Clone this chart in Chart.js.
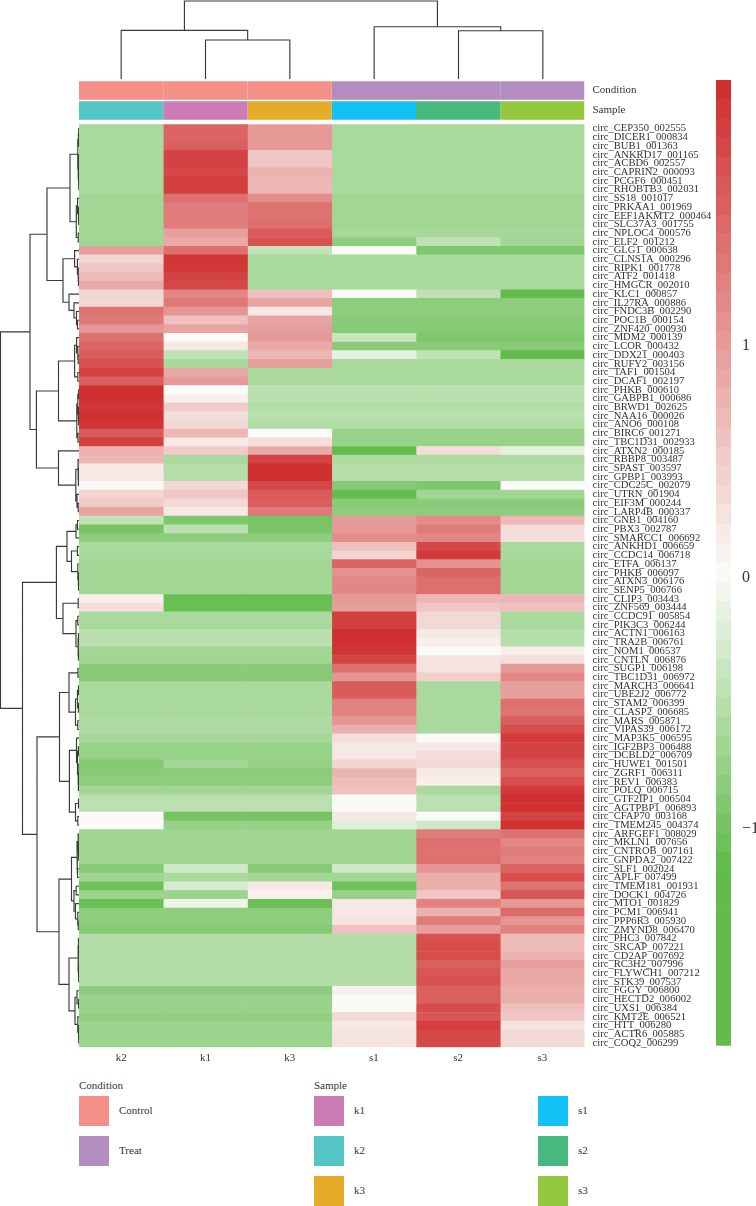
<!DOCTYPE html>
<html><head><meta charset="utf-8">
<script src="https://cdn.jsdelivr.net/npm/chart.js@4"></script>
<style>
html,body{margin:0;padding:0;background:#fff;width:756px;height:1206px;overflow:hidden;font-family:"Liberation Serif",serif;color:#333}
.c{position:absolute}
.t{position:absolute;font-size:11px;line-height:14px;white-space:nowrap}
.s{position:absolute;width:30px;height:30px}
</style></head><body>
<div class="c" style="left:79px;top:0"><canvas id="top"></canvas></div>
<div class="c" style="left:79px;top:78px"><canvas id="anno"></canvas></div>
<div class="c" style="left:0;top:120px"><canvas id="left"></canvas></div>
<div class="c" style="left:79px;top:120px"><canvas id="heat"></canvas></div>
<div class="c" style="left:716px;top:70px"><canvas id="bar"></canvas></div>
<div id="legend"></div>
<script>
const columns=['k2','k1','k3','s1','s2','s3'];
const rowLabels=['CEP350_002555','DICER1_000834','BUB1_001363','ANKRD17_001165','ACBD6_002557','CAPRIN2_000093','PCGF6_000451','RHOBTB3_002031','SS18_001017','PRKAA1_001969','EEF1AKMT2_000464','SLC37A3_001755','NPLOC4_000576','ELF2_001212','GLG1_000638','CLNS1A_000296','RIPK1_001778','ATF2_001418','HMGCR_002010','KLC1_000857','IL27RA_000886','FNDC3B_002290','POC1B_000154','ZNF420_000930','MDM2_000139','LCOR_000432','DDX21_000403','RUFY2_003156','TAF1_001504','DCAF1_002197','PHKB_000610','GABPB1_000686','BRWD1_002625','NAA16_000026','ANO6_000108','BIRC6_001271','TBC1D31_002933','ATXN2_000185','RBBP8_003487','SPAST_003597','GPBP1_003993','CDC25C_002079','UTRN_001904','EIF3M_000244','LARP4B_000337','GNB1_004160','PBX3_002787','SMARCC1_006692','ANKHD1_006659','CCDC14_006718','ETFA_006137','PHKB_006097','ATXN3_006176','SENP5_006766','CLIP3_003443','ZNF569_003444','CCDC91_005854','PIK3C3_006244','ACTN1_006163','TRA2B_006761','NOM1_006537','CNTLN_006876','SUGP1_006198','TBC1D31_006972','MARCH3_006641','UBE2J2_006772','STAM2_006399','CLASP2_006685','MARS_005871','VIPAS39_006172','MAP3K5_006595','IGF2BP3_006488','DCBLD2_006709','HUWE1_001501','ZGRF1_006311','REV1_006383','POLQ_006715','GTF2IP1_006504','AGTPBP1_006893','CFAP70_003168','TMEM245_004374','ARFGEF1_008029','MKLN1_007656','CNTROB_007161','GNPDA2_007422','SLF1_002024','APLF_007499','TMEM181_001931','DOCK1_004726','MTO1_001829','PCM1_006941','PPP6R3_005930','ZMYND8_006470','PHC3_007842','SRCAP_007221','CD2AP_007692','RC3H2_007996','FLYWCH1_007212','STK39_007537','FGGY_006800','HECTD2_006002','UXS1_006384','KMT2E_006521','HTT_006280','ACTR6_005885','COQ2_006299'].map(s=>'circ_'+s);
const k2=[-.55,-.55,-.55,-.55,-.55,-.55,-.55,-.55,-.6,-.6,
-.6,-.6,-.6,-.6,.95,.4,.55,.65,.85,.4,
.35,1.4,1.35,1.05,1.45,1.55,1.65,1.75,1.9,1.6,
2.15,2.15,2.05,2.15,2.05,1.65,1.95,.75,.7,.2,
.2,.02,.4,.5,.9,-.4,-.9,-.75,-.55,-.55,
-.6,-.6,-.6,-.6,.12,.3,-.55,-.55,-.45,-.45,
-.6,-.62,-.78,-.8,-.55,-.55,-.55,-.55,-.52,-.52,
-.57,-.68,-.68,-.82,-.78,-.75,-.6,-.45,-.45,0,
0,-.62,-.62,-.62,-.62,-.8,-.62,-.95,-.65,-1,
-.75,-.75,-.8,-.5,-.5,-.5,-.5,-.5,-.5,-.75,
-.66,-.66,-.72,-.65,-.65,-.65];
const k1=[1.55,1.55,1.6,1.9,1.9,1.85,1.95,1.95,1.45,1.3,
1.3,1.3,.95,.85,1.45,2.05,2,1.9,1.85,1.2,
1.35,1.05,.6,.9,0,.2,-.4,-.55,.85,1,
0,.1,.5,.3,.35,.7,.2,.5,-.55,-.47,
-.47,.35,.55,.35,.2,-.85,-.42,-.75,-.55,-.55,
-.6,-.6,-.6,-.6,-1,-1,-.55,-.55,-.45,-.45,
-.6,-.62,-.78,-.8,-.55,-.55,-.55,-.55,-.52,-.52,
-.57,-.68,-.68,-.6,-.78,-.75,-.6,-.45,-.45,-.9,
-.68,-.62,-.62,-.62,-.62,-.3,-.55,-.25,-.65,-.1,
-.75,-.75,-.8,-.5,-.5,-.5,-.5,-.5,-.5,-.75,
-.66,-.66,-.72,-.65,-.65,-.65];
const k3=[1,1,1,.55,.55,.75,.7,.7,1.15,1.4,
1.4,1.45,1.65,1.75,-.38,-.55,-.55,-.55,-.55,.6,
.9,.2,.9,.95,1,.85,.7,.95,-.55,-.55,
-.45,-.45,-.5,-.45,-.5,0,.3,.85,1.9,2.1,
2.1,1.85,1.65,1.6,1.35,-.9,-.88,-.75,-.55,-.55,
-.6,-.6,-.6,-.6,-1,-1,-.55,-.55,-.45,-.45,
-.6,-.62,-.78,-.8,-.55,-.55,-.55,-.55,-.52,-.52,
-.57,-.68,-.68,-.7,-.78,-.75,-.6,-.45,-.45,-.9,
-.68,-.62,-.62,-.62,-.62,-.8,-.6,.2,.1,-1,
-.75,-.75,-.8,-.5,-.5,-.5,-.5,-.5,-.5,-.75,
-.66,-.66,-.72,-.65,-.65,-.65];
const s1=[-.55,-.55,-.55,-.55,-.55,-.55,-.55,-.55,-.6,-.6,
-.6,-.6,-.58,-.75,0,-.55,-.55,-.55,-.55,0,
-.75,-.75,-.78,-.8,-.35,-.78,-.15,-.55,-.55,-.55,
-.45,-.45,-.5,-.45,-.5,-.68,-.68,-1.05,-.52,-.47,
-.47,-.8,-1.05,-.78,-.75,1,1,1.15,.6,.4,
1.55,1.1,1.2,1.2,1,.95,1.95,1.95,2.1,2.15,
2.05,1.9,1.45,1.05,1.65,1.65,1.25,1.25,1.05,.8,
.3,.2,.2,.4,.75,.65,.6,0,0,.2,
-.2,-.62,-.62,-.62,-.62,-.3,-.6,-.95,-.68,.2,
.2,.25,.6,-.5,-.5,-.5,-.5,-.5,-.5,.1,
0,0,.35,.2,.25,.25];
const s2=[-.55,-.55,-.55,-.55,-.55,-.55,-.55,-.55,-.6,-.6,
-.6,-.6,-.58,-.42,-.85,-.55,-.55,-.55,-.55,-.42,
-.75,-.75,-.78,-.8,-.85,-.78,-.4,-.55,-.55,-.55,
-.45,-.45,-.5,-.45,-.5,-.68,-.68,.3,-.52,-.47,
-.47,-.85,-.6,-.78,-.75,1.15,1.3,1.2,1.85,2,
1.1,1.55,1.45,1.45,.7,.55,.35,.35,.2,.12,
0,.25,.25,.45,-.55,-.55,-.55,-.55,-.55,-.55,
0,.2,.3,.35,.2,.12,-.55,-.45,-.45,0,
-.3,1.3,1.45,1.4,1.45,1.05,.8,.8,.55,1.25,
.75,1.3,.95,1.75,1.8,1.8,1.6,1.7,1.75,1.6,
1.6,1.8,1.7,1.95,1.85,1.85];
const s3=[-.55,-.55,-.55,-.55,-.55,-.55,-.55,-.55,-.6,-.6,
-.6,-.6,-.58,-.6,-.85,-.55,-.55,-.55,-.55,-1.05,
-.75,-.75,-.78,-.8,-.85,-.78,-1.05,-.55,-.55,-.55,
-.45,-.45,-.5,-.45,-.5,-.68,-.68,-.15,-.52,-.47,
-.47,0,-.6,-.78,-.75,.7,.3,.3,-.55,-.55,
-.6,-.6,-.6,-.6,.7,.6,-.55,-.55,-.47,-.47,
.15,.3,1,1.2,.95,.95,1.45,1.4,1.6,1.8,
2,1.9,1.9,1.75,1.6,1.8,2,2.1,2.15,1.9,
2.15,1.4,1.2,1.3,1.25,1.55,1.8,1.4,1.7,1,
1.5,1.05,1.25,.65,.65,.75,.95,.85,.85,.8,
.8,.6,.55,.25,.35,.35];
const heatColumns=[k2,k1,k3,s1,s2,s3];
const conditionNames=['Control','Control','Control','Treat','Treat','Treat'];
const sampleNames=['k2','k1','k3','s1','s2','s3'];
const conditionColors={Control:'#F59088',Treat:'#B48DC0'};
const sampleColors={k1:'#CC7BB4',k2:'#54C5C6',k3:'#E6AB29',s1:'#12C2F6',s2:'#47B97F',s3:'#94C83E'};
const scaleLevels=[2.10,2.02,1.94,1.85,1.77,1.68,1.60,1.52,1.43,1.35,1.26,1.18,1.10,1.01,0.93,0.84,0.76,0.67,0.59,0.50,0.42,0.34,0.25,0.17,0.08,0.00,
-0.06,-0.13,-0.20,-0.27,-0.34,-0.41,-0.48,-0.55,-0.62,-0.69,-0.76,-0.83,-0.90,-0.97,-1.04,-1.08,-1.10,-1.12,-1.14,-1.16,-1.18,-1.20,-1.22,-1.24];
// Dendrogram trees: [merge height, child, child]; a number is a leaf index.
const columnTree=[78,[48.7,1,[39,2,3]],[52.3,4,[48.3,5,6]]];
const rowsA1=[32,
 [9,[1.2,[.6,[.3,1,2],3],[.9,[.4,4,5],[.5,6,[.2,7,8]]]],[2.7,[1.4,9,[.7,10,[.3,11,12]]],[.8,13,14]]],
 [16,[4.4,15,[1.6,16,[.9,17,[.5,18,19]]]],[10,20,[5,21,[2.5,22,[1.5,23,24]]]]]];
const rowsA2=[42.6,
 [20.5,[4.4,[2.4,25,[1.2,26,[.8,27,28]]],[1.2,29,30]],[2.2,[1.2,[.3,31,32],[.7,33,[.4,34,35]]],[1,36,37]]],
 [20.5,38,[3.2,[1,39,[.6,[.2,40,41],42]],[2,43,[.8,44,45]]]]];
const rowsB1=[22.6,
 [12,[3,[1.5,46,47],48],[7.5,[1.6,49,50],[1.2,51,[.8,52,[.4,53,54]]]]],
 [16,[.8,55,56],[3,[1.2,57,58],[1,[.5,59,60],[.6,61,62]]]]];
const rowsB2=[42,
 [19.5,[10,[1,63,64],[3.5,[1.5,[.5,65,66],[.6,67,68]],[1.2,69,70]]],
  [9.6,[2.5,71,[1.5,[.6,72,73],[1,74,[.6,[.4,75,76],77]]]],[3.5,[.5,78,79],[1.2,80,81]]]],
 [20,[7.5,[2,[.9,82,[.5,83,[.3,84,85]]],[1.4,86,87]],[5,[2.8,88,89],[3.5,90,[1.2,91,[.7,92,93]]]]],
  [10,[1,[.5,94,[.3,95,96]],[.6,97,[.3,98,99]]],[4,[2,100,[.4,101,102]],[1.2,103,[.6,104,[.3,105,106]]]]]]];
const rowTree=[78.5,[49,rowsA1,rowsA2],[56.5,rowsB1,rowsB2]];

const FONT='"Liberation Serif"';
const INK='#333';
function mix(a,b,t){return 'rgb('+a.map((v,i)=>Math.round(v+(b[i]-v)*t)).join(',')+')';}
function colorFor(v){
  const w=[250,251,247];
  return v>=0?mix(w,[208,48,48],Math.min(1,v/2.1)):mix(w,[98,187,76],Math.min(1,-v/1.05));
}
function size(id,w,h){const c=document.getElementById(id);c.width=w;c.height=h;c.style.width=w+'px';c.style.height=h+'px';c.style.display='block';return c;}
const base={responsive:false,animation:false,devicePixelRatio:1,plugins:{legend:{display:false},tooltip:{enabled:false}},events:[]};
const spans=columns.map((_,c)=>[c,c+1]);
const noPad=(s,dim,val)=>{s[dim]=val;s.paddingTop=s.paddingBottom=s.paddingLeft=s.paddingRight=0;if(s._margins){s._margins.top=s._margins.bottom=s._margins.left=s._margins.right=0;}};

// heat map
new Chart(size('heat',640,950),{type:'bar',data:{labels:rowLabels,datasets:columns.map((name,c)=>({
  label:name,data:rowLabels.map(()=>spans[c]),backgroundColor:heatColumns[c].map(colorFor),borderWidth:0,grouped:false,barPercentage:1,categoryPercentage:1}))},
  options:{...base,indexAxis:'y',layout:{autoPadding:false,padding:{top:4.3,bottom:0,left:0,right:0}},scales:{
    x:{type:'linear',min:0,max:6,border:{display:false},grid:{display:false,drawTicks:false},
      afterBuildTicks:s=>{s.ticks=columns.map((_,i)=>({value:i+.5}));},
      afterFit:s=>noPad(s,'height',22.7),
      ticks:{padding:4,autoSkip:false,maxRotation:0,font:{family:FONT,size:11},color:INK,callback:(v)=>columns[Math.floor(v)]}},
    y:{position:'right',border:{display:false},grid:{display:false,drawTicks:false},
      afterFit:s=>noPad(s,'width',134.5),
      ticks:{padding:8,autoSkip:false,maxRotation:0,font:{family:FONT,size:10.6},color:INK}}}}});

// annotation bars
new Chart(size('anno',640,46),{type:'bar',data:{labels:['Condition','Sample'],datasets:columns.map((name,c)=>({
  label:name,data:[spans[c],spans[c]],backgroundColor:[conditionColors[conditionNames[c]],sampleColors[sampleNames[c]]],borderWidth:0,grouped:false,barPercentage:.92,categoryPercentage:1}))},
  options:{...base,indexAxis:'y',layout:{autoPadding:false,padding:{top:2.4,bottom:3.4,left:0,right:0}},scales:{
    x:{type:'linear',min:0,max:6,display:false},
    y:{position:'right',border:{display:false},grid:{display:false,drawTicks:false},
      afterFit:s=>noPad(s,'width',134.5),
      ticks:{padding:8,autoSkip:false,font:{family:FONT,size:11},color:INK}}}}});

// dendrograms
function treeLines(node,out){
  if(typeof node==='number')return{pos:node-.5,h:0};
  const a=treeLines(node[1],out),b=treeLines(node[2],out),h=node[0];
  out.push({p:a.pos,h:a.h},{p:a.pos,h:h},{p:b.pos,h:h},{p:b.pos,h:b.h},{p:null,h:null});
  return{pos:(a.pos+b.pos)/2,h:h};
}
const colLines=[];treeLines(columnTree,colLines);
const rowLines=[];treeLines(rowTree,rowLines);
const lineDs=(data)=>({data,showLine:true,pointRadius:0,borderColor:'#3a3a3a',borderWidth:1.15,spanGaps:false,clip:false,borderCapStyle:'square'});
new Chart(size('top',506,79),{type:'scatter',data:{datasets:[lineDs(colLines.map(d=>({x:d.p,y:d.h})))]},
  options:{...base,layout:{autoPadding:false},scales:{x:{type:'linear',min:0,max:6,display:false},y:{type:'linear',min:0,max:79,display:false}}}});
new Chart(size('left',80,950),{type:'scatter',data:{datasets:[lineDs(rowLines.map(d=>({x:d.h,y:d.p})))]},
  options:{...base,layout:{autoPadding:false,padding:{top:4.3,bottom:22.7,left:0,right:1}},scales:{x:{type:'linear',min:0,max:79,reverse:true,display:false},y:{type:'linear',min:0,max:106,reverse:true,display:false}}}});

// colour key
const scaleTicks=[{value:13.77,label:'1'},{value:25.78,label:'0'},{value:38.77,label:'\u22121'}];
new Chart(size('bar',40,990),{type:'bar',data:{datasets:[{
  data:scaleLevels.map((_,i)=>({x:[0,1],y:i+.5})),backgroundColor:scaleLevels.map(colorFor),borderWidth:0,barPercentage:1,categoryPercentage:1}]},
  options:{...base,indexAxis:'y',layout:{autoPadding:false,padding:{top:10,bottom:14.3,left:0,right:0}},scales:{
    x:{type:'linear',min:0,max:1,display:false},
    y:{type:'linear',position:'right',reverse:true,min:0,max:50,offset:false,border:{display:false},grid:{display:false,drawTicks:false},
      afterBuildTicks:s=>{s.ticks=scaleTicks.map(t=>({value:t.value}));},
      afterFit:s=>noPad(s,'width',25),
      ticks:{padding:11,autoSkip:false,font:{family:FONT,size:16},color:INK,
        callback:v=>scaleTicks.find(t=>t.value===v).label}}}}});

// legend
const lg=document.getElementById('legend');
function text(x,y,s){const d=document.createElement('div');d.className='t';d.style.left=x+'px';d.style.top=(y-7)+'px';d.textContent=s;lg.appendChild(d);}
function swatch(x,y,col,s){const d=document.createElement('div');d.className='s';d.style.left=x+'px';d.style.top=y+'px';d.style.background=col;lg.appendChild(d);text(x+40,y+14,s);}
text(79,1085,'Condition');text(314,1085,'Sample');
swatch(79,1096,conditionColors.Control,'Control');swatch(79,1136,conditionColors.Treat,'Treat');
swatch(314,1096,sampleColors.k1,'k1');swatch(314,1136,sampleColors.k2,'k2');swatch(314,1176,sampleColors.k3,'k3');
swatch(538,1096,sampleColors.s1,'s1');swatch(538,1136,sampleColors.s2,'s2');swatch(538,1176,sampleColors.s3,'s3');
</script>
</body></html>
